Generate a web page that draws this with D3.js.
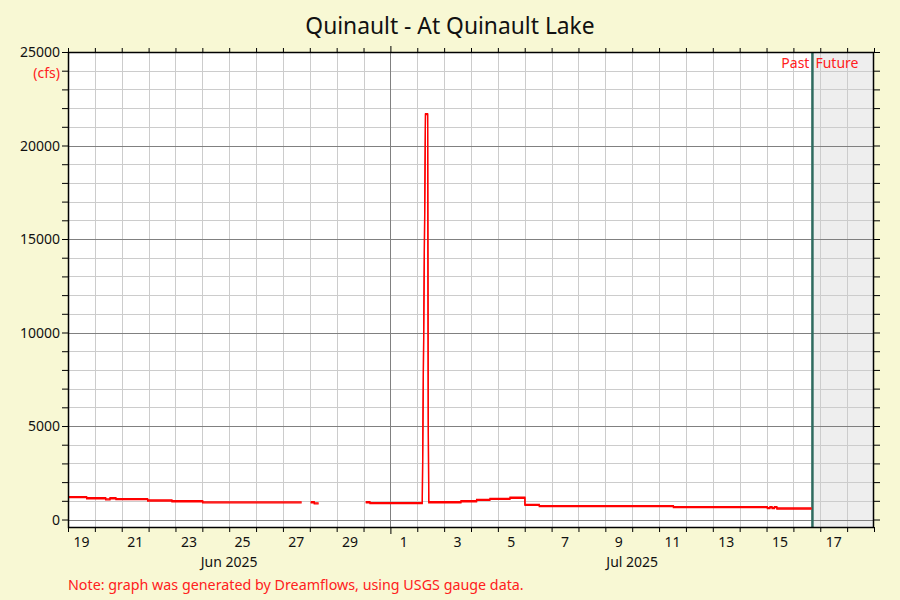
<!DOCTYPE html>
<html>
<head>
<meta charset="utf-8">
<script src="https://cdn.jsdelivr.net/npm/d3@7"></script>
<style>
  html, body { margin: 0; padding: 0; background: #f8f8d4; }
  svg { display: block; font-family: "Noto Sans", "Open Sans", sans-serif; }
</style>
</head>
<body>
<svg id="chart" width="900" height="600"></svg>
<script>
// ---- Data ----
const chartTitle = "Quinault - At Quinault Lake";
const unitsLabel = "(cfs)";
const noteText = "Note: graph was generated by Dreamflows, using USGS gauge data.";
const xStart = "2025-06-19T00:00";
const xEnd = "2025-07-19T00:00";
const nowTime = "2025-07-16T17:00";
const yTickValues = [0, 5000, 10000, 15000, 20000, 25000];
const monthLabels = ["Jun 2025", "Jul 2025"];
const monthLabelCenters = ["2025-06-25T00:00", "2025-07-10T00:00"];

// flow readings (null = missing data)
const flowTimes = [
  "2025-06-19T00:00", "2025-06-19T16:40", "2025-06-19T16:40", "2025-06-20T09:40", "2025-06-20T09:40",
  "2025-06-20T13:30", "2025-06-20T13:30", "2025-06-20T18:50", "2025-06-20T18:50", "2025-06-21T23:10",
  "2025-06-21T23:10", "2025-06-22T20:50", "2025-06-22T20:50", "2025-06-24T00:20", "2025-06-24T00:20",
  "2025-06-27T16:45", "2025-06-27T20:00",
  "2025-06-28T00:45", "2025-06-28T04:00", "2025-06-28T04:00", "2025-06-28T07:55", "2025-06-28T12:00",
  "2025-06-30T01:55", "2025-06-30T05:45", "2025-06-30T05:45", "2025-07-02T04:30",
  "2025-07-02T07:20", "2025-07-02T09:15", "2025-07-02T09:50", "2025-07-02T10:15",
  "2025-07-03T15:00", "2025-07-03T15:00", "2025-07-04T05:00", "2025-07-04T05:00",
  "2025-07-04T16:55", "2025-07-04T16:55", "2025-07-05T10:50", "2025-07-05T10:50",
  "2025-07-06T00:10", "2025-07-06T00:10", "2025-07-06T13:00", "2025-07-06T13:00",
  "2025-07-11T12:50", "2025-07-11T12:50", "2025-07-15T00:45", "2025-07-15T00:45",
  "2025-07-15T03:00", "2025-07-15T03:00", "2025-07-15T05:00", "2025-07-15T05:00",
  "2025-07-15T07:00", "2025-07-15T07:00", "2025-07-15T09:15", "2025-07-15T09:15",
  "2025-07-16T16:15"
];
const flowValues = [
  1220, 1220, 1165, 1165, 1100,
  1100, 1165, 1165, 1115, 1115,
  1045, 1045, 1005, 1005, 940,
  940, null,
  950, 950, 885, 885, null,
  950, 950, 900, 900,
  21700, 21700, 5330, 950,
  950, 1005, 1005, 1080,
  1080, 1135, 1135, 1190,
  1190, 815, 815, 745,
  745, 690, 690, 640,
  640, 690, 690, 640,
  640, 690, 690, 615,
  615
];

// ---- Layout ----
const svg = d3.select("#chart");
const W = 900, H = 600;
const plotLeft = 68, plotRight = 874, plotTop = 52, plotBottom = 527;
const parse = d3.timeParse("%Y-%m-%dT%H:%M");

const x = d3.scaleTime()
  .domain([parse(xStart), parse(xEnd)])
  .range([plotLeft, plotRight]);
const y = d3.scaleLinear()
  .domain([-400, 25000])
  .range([plotBottom, plotTop]);

const crisp = v => Math.round(v) + 0.5;

// background
svg.append("rect").attr("width", W).attr("height", H).attr("fill", "#f8f8d4");
svg.append("rect")
  .attr("x", plotLeft).attr("y", plotTop)
  .attr("width", plotRight - plotLeft).attr("height", plotBottom - plotTop)
  .attr("fill", "#ffffff");

// future shading
const nowDate = parse(nowTime);
svg.append("rect")
  .attr("x", x(nowDate)).attr("y", plotTop)
  .attr("width", plotRight - x(nowDate)).attr("height", plotBottom - plotTop)
  .attr("fill", "#eeeeee");

// grid
const days = d3.timeDay.range(parse(xStart), parse(xEnd));
const months = d3.timeMonth.range(parse(xStart), parse(xEnd));
const isMonth = d => d.getDate() === 1;
const minorY = d3.range(0, 25001, 1000);

const grid = svg.append("g");
grid.selectAll("line.vminor").data(days.filter(d => !isMonth(d) && x(d) > plotLeft + 1))
  .join("line")
  .attr("x1", d => crisp(x(d))).attr("x2", d => crisp(x(d)))
  .attr("y1", plotTop).attr("y2", plotBottom)
  .attr("stroke", "#cccccc").attr("stroke-width", 1);
grid.selectAll("line.hminor").data(minorY.filter(v => v % 5000 !== 0))
  .join("line")
  .attr("x1", plotLeft).attr("x2", plotRight)
  .attr("y1", d => crisp(y(d))).attr("y2", d => crisp(y(d)))
  .attr("stroke", "#cccccc").attr("stroke-width", 1);
grid.selectAll("line.hmajor").data(yTickValues.filter(v => v < 25000))
  .join("line")
  .attr("x1", plotLeft).attr("x2", plotRight)
  .attr("y1", d => crisp(y(d))).attr("y2", d => crisp(y(d)))
  .attr("stroke", "#808080").attr("stroke-width", 1);
grid.selectAll("line.vmajor").data(months.filter(d => x(d) > plotLeft + 1))
  .join("line")
  .attr("x1", d => crisp(x(d))).attr("x2", d => crisp(x(d)))
  .attr("y1", plotTop).attr("y2", plotBottom)
  .attr("stroke", "#808080").attr("stroke-width", 1);

// now line
svg.append("line")
  .attr("x1", x(nowDate)).attr("x2", x(nowDate))
  .attr("y1", plotTop).attr("y2", plotBottom)
  .attr("stroke", "#2f6b5f").attr("stroke-width", 2.5);

// flow line (1px wide pen, 2px tall: drawn twice with a 1px vertical offset)
const flowData = flowTimes.map((t, i) => ({ t: parse(t), v: flowValues[i] }));
const line = d3.line()
  .defined(d => d.v !== null)
  .x(d => x(d.t))
  .y(d => y(d.v));
[0, 1].forEach(off => {
  svg.append("path")
    .datum(flowData)
    .attr("transform", `translate(0,${off})`)
    .attr("d", line)
    .attr("fill", "none")
    .attr("stroke", "#ff0000")
    .attr("stroke-width", 1.3)
    .attr("stroke-linejoin", "miter");
});

// frame
svg.append("rect")
  .attr("x", plotLeft + 0.5).attr("y", plotTop + 0.5)
  .attr("width", plotRight - plotLeft - 1).attr("height", plotBottom - plotTop)
  .attr("fill", "none").attr("stroke", "#000").attr("stroke-width", 1.5);

// axes: left & right y ticks every 1000
const yAxisLeft = d3.axisLeft(y).tickValues(minorY).tickSize(6).tickFormat("");
const gl = svg.append("g").attr("transform", `translate(${plotLeft},0)`).call(yAxisLeft);
const yAxisRight = d3.axisRight(y).tickValues(minorY).tickSize(6).tickFormat("");
const gr = svg.append("g").attr("transform", `translate(${plotRight},0)`).call(yAxisRight);
[gl, gr].forEach(g => { g.select(".domain").remove(); g.selectAll("line").attr("stroke", "#000"); });

// y labels
svg.append("g").selectAll("text").data(yTickValues)
  .join("text")
  .attr("x", 60).attr("y", d => y(d) + 5)
  .attr("text-anchor", "end")
  .attr("font-size", 14).attr("fill", "#111")
  .text(d => d);
svg.append("text")
  .attr("x", 60).attr("y", y(24000) + 7)
  .attr("text-anchor", "end").attr("font-size", 14).attr("fill", "#ff2020")
  .text(unitsLabel);

// x ticks bottom & top
const xb = d3.axisBottom(x).tickValues(days.concat([parse(xEnd)])).tickSize(5).tickFormat("");
const gxb = svg.append("g").attr("transform", `translate(0,${plotBottom})`).call(xb);
const xt = d3.axisTop(x).tickValues(days.concat([parse(xEnd)])).tickSize(4).tickFormat("");
const gxt = svg.append("g").attr("transform", `translate(0,${plotTop})`).call(xt);
[gxb, gxt].forEach(g => {
  g.select(".domain").remove();
  g.selectAll("line").attr("stroke", "#000");
  g.selectAll(".tick").filter(d => isMonth(d)).select("line")
    .attr("y2", g === gxb ? 7 : -6);
});

// day labels every 2 days
const labelDays = days.filter((d, i) => i % 2 === 0);
svg.append("g").selectAll("text").data(labelDays)
  .join("text")
  .attr("x", d => x(d3.timeHour.offset(d, 12)))
  .attr("y", 547)
  .attr("text-anchor", "middle").attr("font-size", 14).attr("fill", "#111")
  .text(d => d.getDate());
svg.append("g").selectAll("text").data(monthLabels)
  .join("text")
  .attr("x", (d, i) => x(parse(monthLabelCenters[i])))
  .attr("y", 567)
  .attr("text-anchor", "middle").attr("font-size", 14).attr("fill", "#111")
  .text(d => d);

// past / future labels
svg.append("text")
  .attr("x", x(nowDate) - 3).attr("y", 68)
  .attr("text-anchor", "end").attr("font-size", 14).attr("fill", "#ff2020")
  .text("Past");
svg.append("text")
  .attr("x", x(nowDate) + 3).attr("y", 68)
  .attr("text-anchor", "start").attr("font-size", 14).attr("fill", "#ff2020")
  .text("Future");

// title
svg.append("text")
  .attr("x", 450).attr("y", 34)
  .attr("text-anchor", "middle").attr("font-size", 22.8).attr("fill", "#111")
  .text(chartTitle);

// note
svg.append("text")
  .attr("x", 68).attr("y", 590)
  .attr("font-size", 14.3).attr("fill", "#ff2020")
  .text(noteText);
</script>
</body>
</html>
